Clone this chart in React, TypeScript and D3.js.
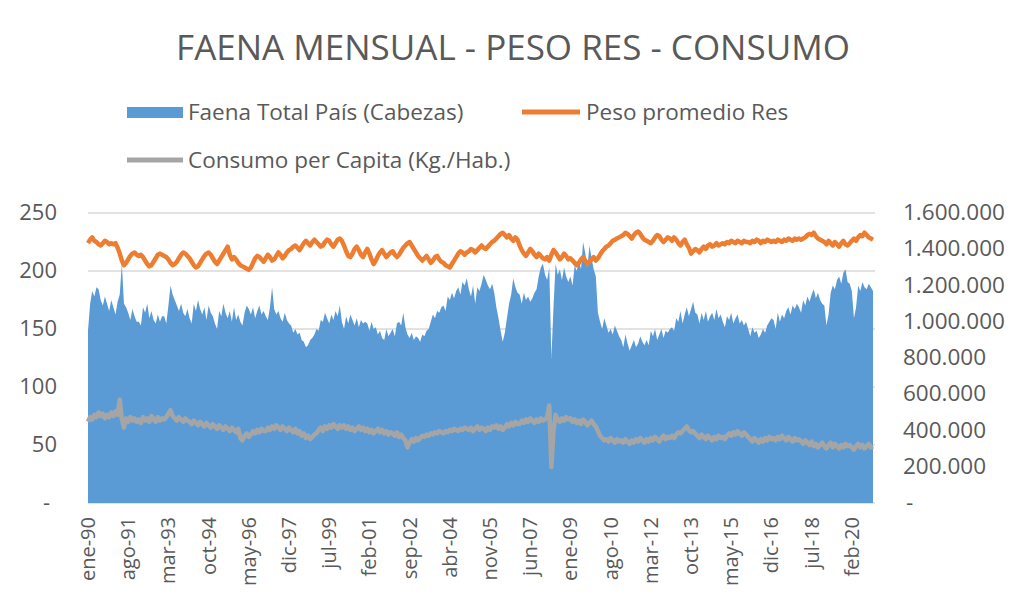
import * as d3 from 'd3';

// Faena Total País, miles de cabezas por mes (ene-90 .. dic-20)
const faenaMiles = [
  950, 1100, 1170, 1140, 1190, 1180, 1120, 1090, 1140, 1100, 1060, 1120,
  1080, 1040, 1110, 1150, 1320, 1100, 1080, 1050, 1010, 1070, 1030, 1000,
  1000, 980, 1080, 1050, 1100, 1020, 1060, 1010, 990, 1040, 1000, 1030,
  1030, 990, 1090, 1200, 1150, 1120, 1090, 1060, 1100, 1050, 1030, 1070,
  1020, 990, 1100, 1060, 1120, 1070, 1040, 1080, 1010, 1090, 1050, 1030,
  990, 960, 1060, 1030, 1100, 1050, 1020, 1060, 1000, 1080, 1010, 1040,
  1000, 980, 1050, 1090, 1070, 1040, 1080, 1020, 1060, 1090, 1040, 1060,
  1030, 1010, 1080, 1190, 1070, 1040, 1060, 1020, 1000, 1050, 1010, 990,
  980, 940, 960, 930, 940, 900, 890, 860, 870, 900, 910, 930,
  960, 950, 1010, 1000, 1050, 1020, 990, 1040, 1010, 1060, 1030, 1090,
  1000, 960, 1030, 990, 1040, 1010, 980, 1020, 970, 1010, 990, 1000,
  990, 950, 1000, 960, 970, 930, 950, 910, 900, 960, 920, 940,
  960, 920, 990, 1000, 980, 1050, 970, 930, 910, 940, 900, 920,
  910, 890, 930, 920, 950, 960, 1000, 1040, 1020, 1060, 1050, 1080,
  1090, 1060, 1140, 1120, 1160, 1130, 1170, 1190, 1150, 1220, 1200, 1240,
  1180, 1140, 1200, 1100, 1190, 1170, 1210, 1260, 1230, 1200, 1180, 1210,
  1160, 1080, 1020, 950, 890, 940, 1020, 1100, 1150, 1240, 1190, 1160,
  1150, 1100, 1160, 1120, 1140, 1110, 1130, 1160, 1180, 1250, 1300, 1320,
  1260, 1230, 1300, 800, 1080, 1320, 1260, 1290, 1230, 1300, 1250, 1220,
  1250, 1200, 1310, 1280, 1340, 1290, 1440, 1380, 1300, 1420, 1350, 1290,
  1250, 1050, 1000, 960, 1020, 980, 940, 960, 930, 980, 950, 920,
  900, 860, 930, 880, 840, 870, 900, 860, 880, 920, 890, 870,
  900, 870, 950, 920, 960, 900, 930, 960, 910, 950, 940, 960,
  970, 950, 1020, 1000, 1060, 990, 1040, 1080, 1030, 1070, 1110, 1050,
  1040, 990, 1050, 1010, 1060, 1000, 1030, 1050, 1010, 1070, 1020, 1040,
  1000, 970, 1030, 1010, 1050, 990, 1020, 1040, 990, 1010, 980, 1000,
  960, 920, 970, 940, 950, 910, 930, 960, 940, 980, 1000, 1020,
  1010, 960, 1050, 1000, 1040, 1020, 1060, 1080, 1040, 1090, 1070, 1100,
  1080, 1050, 1120, 1090, 1140, 1110, 1150, 1180, 1130, 1160, 1120, 1100,
  1090, 980, 1040, 1160, 1200, 1180, 1230, 1250, 1210, 1270, 1290, 1220,
  1210, 1170, 1020, 1080, 1200, 1170, 1220, 1190, 1180, 1210, 1190, 1170,
];

// Peso promedio Res (kg)
const pesoRes = [
  224, 227, 229, 226, 225, 223, 222, 224, 226, 225, 223, 224,
  223, 224, 220, 215, 209, 205, 207, 210, 213, 215, 216, 214,
  213, 214, 212, 209, 206, 204, 205, 208, 211, 214, 215, 214,
  213, 212, 210, 207, 205, 206, 208, 211, 214, 216, 215, 213,
  211, 208, 205, 203, 204, 207, 210, 213, 215, 216, 214, 211,
  208, 206, 209, 212, 215, 218, 221, 214, 210, 212, 210, 207,
  205, 204, 203, 202, 201, 203, 207, 211, 213, 212, 210, 208,
  211, 214, 212, 209, 210, 213, 216, 214, 211, 213, 216, 218,
  219, 221, 222, 220, 218, 221, 224, 226, 224, 222, 225, 227,
  225, 223, 221, 222, 225, 227, 226, 223, 221, 224, 227, 228,
  226, 222, 217, 213, 212, 215, 219, 221, 218, 214, 212, 216,
  219, 215, 210, 206, 209, 213, 216, 218, 215, 212, 214, 216,
  217, 214, 212, 214, 217, 220, 222, 224, 225, 222, 219, 216,
  213, 211, 209, 211, 213, 210, 207, 209, 212, 213, 210, 208,
  207, 205, 204, 203, 206, 209, 212, 215, 217, 216, 214, 216,
  217, 219, 218, 216, 218, 220, 222, 220, 219, 221, 223, 225,
  226, 228, 230, 232, 233, 231, 229, 231, 228, 226, 229, 227,
  222, 218, 215, 213, 216, 219, 217, 214, 212, 215, 213, 211,
  210, 212, 209, 214, 218, 216, 213, 210, 212, 215, 213, 210,
  211, 209, 207, 205, 207, 210, 212, 209, 206, 208, 210, 212,
  209, 211, 214, 217, 219, 221, 222, 224, 226, 227, 228, 229,
  230, 231, 233, 232, 230, 228, 231, 233, 234, 232, 229, 227,
  226, 225, 224, 226, 229, 231, 230, 227, 225, 227, 229, 228,
  226, 229, 227, 224, 222, 225, 227, 223, 220, 215, 217, 219,
  218, 216, 219, 221, 219, 222, 223, 221, 222, 224, 222, 223,
  224, 223, 225, 224, 226, 225, 224, 226, 225, 224, 226, 225,
  225, 224, 226, 225, 227, 226, 224, 226, 225, 227, 226, 225,
  226, 225, 227, 226, 225, 227, 226, 228, 227, 226, 228, 227,
  228, 227, 228, 229, 231, 232, 231, 233, 230, 228, 227, 226,
  225, 223, 226, 224, 222, 225, 223, 221, 224, 226, 223, 222,
  224, 226, 228, 226, 229, 231, 230, 233, 231, 229, 228, 227,
];

// Consumo per Capita (Kg./Hab.)
const consumo = [
  70, 74, 72, 76, 74, 78, 75, 77, 73, 76, 74, 78,
  75, 79, 76, 89, 72, 65, 73, 70, 74, 71, 73, 70,
  72, 69, 74, 71, 73, 70, 75, 72, 70, 74, 71, 73,
  72, 74, 77, 80, 75, 73, 71, 74, 72, 70, 73, 71,
  70, 68, 71, 69, 67, 70, 68, 66, 69, 67, 65, 68,
  66, 64, 67, 65, 63, 66, 64, 62, 65, 63, 61, 64,
  56, 54, 58, 60, 57, 59, 62, 60, 63, 61, 64, 62,
  62, 65, 63, 66, 64, 67, 65, 63, 66, 64, 62, 65,
  63, 61, 64, 60, 62, 58, 60, 56, 58, 55, 57, 59,
  60, 63, 65, 62, 66, 64, 67, 65, 68, 66, 64, 67,
  65, 67, 64, 66, 63, 65, 62, 64, 66, 63, 65, 62,
  64, 61, 63, 60, 62, 64, 61, 63, 60, 62, 59, 61,
  60, 58, 61, 57, 59, 56, 54, 48, 52, 55, 53, 56,
  54, 56, 58, 57, 59, 58, 60, 59, 61, 60, 62, 61,
  60, 62, 61, 63, 62, 64, 63, 62, 64, 63, 65, 64,
  63, 65, 62, 64, 66, 63, 65, 64, 62, 65, 63, 66,
  65, 67, 64, 66, 63, 65, 68, 66, 69, 67, 70, 68,
  68, 71, 69, 72, 70, 73, 71, 69, 72, 70, 73, 71,
  72, 74, 84, 31, 62, 76, 72, 70, 73, 71, 74, 72,
  73, 70, 72, 69, 71, 68, 72, 70, 67, 69, 71, 68,
  66, 62, 58, 56, 54, 55, 53, 56, 54, 52, 55, 53,
  54, 52, 55, 53, 51, 54, 52, 55, 53, 56, 54, 52,
  55, 53, 56, 54, 57, 55, 53, 56, 58, 55, 57, 56,
  58, 56, 59, 61, 60, 62, 64, 66, 63, 61, 62, 60,
  58, 56, 59, 57, 55, 58, 56, 54, 57, 55, 58, 56,
  57, 55, 58, 60, 58, 61, 59, 62, 60, 58, 61, 59,
  57, 55, 53, 56, 54, 52, 55, 53, 56, 54, 57, 55,
  56, 54, 57, 55, 58, 56, 54, 57, 55, 53, 56, 54,
  55, 53, 51, 54, 52, 50, 53, 49, 51, 48, 50, 52,
  49, 47, 50, 52, 48, 51, 49, 47, 50, 48, 51, 49,
  50, 48, 46, 49, 51, 48, 50, 47, 49, 51, 48, 49,
];

const leftTicks = [0, 50, 100, 150, 200, 250];
const rightTicks = [0, 200000, 400000, 600000, 800000, 1000000, 1200000, 1400000, 1600000];
const xTickLabels = [
  'ene-90', 'ago-91', 'mar-93', 'oct-94', 'may-96', 'dic-97', 'jul-99', 'feb-01', 'sep-02', 'abr-04',
  'nov-05', 'jun-07', 'ene-09', 'ago-10', 'mar-12', 'oct-13', 'may-15', 'dic-16', 'jul-18', 'feb-20',
];
const xTickStep = 19;

const W = 1023;
const H = 612;
const plot = { left: 88, right: 873, top: 213, bottom: 503 };
const font = 'Open Sans, sans-serif';
const textColor = '#595959';

const fmt = d3.formatLocale({ decimal: ',', thousands: '.', grouping: [3], currency: ['$', ''] }).format(',');

export default function App() {
  const n = faenaMiles.length;
  const x = d3.scaleLinear().domain([0, n - 1]).range([plot.left, plot.right]);
  const yL = d3.scaleLinear().domain([0, 250]).range([plot.bottom, plot.top]);
  const yR = d3.scaleLinear().domain([0, 1600000]).range([plot.bottom, plot.top]);

  const area = d3
    .area<number>()
    .x((_, i) => x(i))
    .y0(yR(0))
    .y1((d) => yR(d * 1000));
  const line = d3
    .line<number>()
    .x((_, i) => x(i))
    .y((d) => yL(d));

  return (
    <svg width={W} height={H} style={{ position: 'absolute', left: 0, top: 0, background: '#fff' }}>
      <text x={513} y={60} textAnchor="middle" fontFamily={font} fontSize={35} fill={textColor}>
        FAENA MENSUAL - PESO RES - CONSUMO
      </text>

      {/* legend */}
      <rect x={127} y={107} width={56} height={11} fill="#5B9BD5" />
      <text x={188} y={120} fontFamily={font} fontSize={22.5} fill={textColor}>
        Faena Total País (Cabezas)
      </text>
      <line x1={522} x2={580} y1={112} y2={112} stroke="#ED7D31" strokeWidth={5} />
      <text x={586} y={120} fontFamily={font} fontSize={22.5} fill={textColor}>
        Peso promedio Res
      </text>
      <line x1={127} x2={183} y1={160} y2={160} stroke="#A5A5A5" strokeWidth={5} />
      <text x={188} y={168} fontFamily={font} fontSize={22.5} fill={textColor}>
        Consumo per Capita (Kg./Hab.)
      </text>

      {/* gridlines */}
      {leftTicks.slice(1).map((t) => (
        <line key={t} x1={plot.left} x2={plot.right + 2} y1={yL(t)} y2={yL(t)} stroke="#D9D9D9" strokeWidth={1.5} />
      ))}
      <line x1={plot.left} x2={plot.right + 2} y1={plot.bottom} y2={plot.bottom} stroke="#D9D9D9" strokeWidth={1.5} />

      <path d={area(faenaMiles) ?? ''} fill="#5B9BD5" />
      <path d={line(pesoRes) ?? ''} fill="none" stroke="#ED7D31" strokeWidth={4.5} strokeLinejoin="round" />
      <path d={line(consumo) ?? ''} fill="none" stroke="#A5A5A5" strokeWidth={4.5} strokeLinejoin="round" />

      {/* left axis */}
      {leftTicks.map((t) => (
        <text key={t} x={t === 0 ? 50 : 57} y={yL(t) + 7} textAnchor="end" fontFamily={font} fontSize={22} fill={textColor}>
          {t === 0 ? '-' : t}
        </text>
      ))}
      {/* right axis */}
      {rightTicks.map((t) => (
        <text key={t} x={t === 0 ? 906 : 903} y={yR(t) + 7} textAnchor="start" fontFamily={font} fontSize={22.5} fill={textColor}>
          {t === 0 ? '-' : fmt(t)}
        </text>
      ))}
      {/* x axis */}
      {xTickLabels.map((lab, k) => (
        <text
          key={lab}
          transform={`translate(${x(k * xTickStep) + 7},517) rotate(-90)`}
          textAnchor="end"
          fontFamily={font}
          fontSize={20}
          fill={textColor}
        >
          {lab}
        </text>
      ))}
    </svg>
  );
}
